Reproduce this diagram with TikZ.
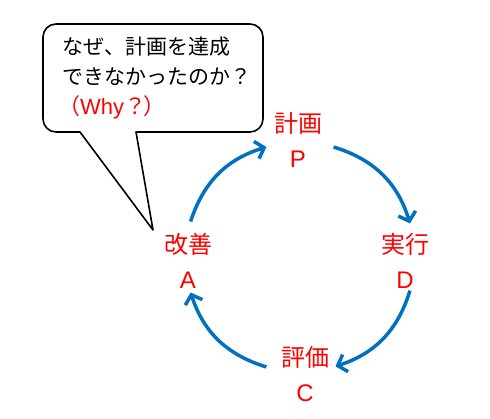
\documentclass[tikz,border=0pt]{standalone}
\usepackage{fontspec}
\setmainfont{Noto Sans CJK JP}
\newfontfamily\lat{Liberation Sans}
\usetikzlibrary{arrows.meta,calc}
\definecolor{cblue}{HTML}{0070C0}
\definecolor{cred}{HTML}{FF0000}
\tikzset{
  lbl/.style={text=cred, font=\fontsize{24}{35}\selectfont, align=center, inner sep=0pt},
  cyc/.style={draw=cblue, line width=3.5pt, -{Straight Barb[length=8pt,width=18pt]}},
  callout/.style={draw=black, line width=1.6pt, fill=white, line join=round},
  ctext/.style={font=\fontsize{21}{30}\selectfont, align=left, inner sep=0pt, anchor=north west}
}
\begin{document}
\begin{tikzpicture}[x=1pt,y=1pt]
\useasboundingbox (0,0) rectangle (490,419);
% callout
\coordinate (tip) at (153,189);
\coordinate (bl) at (80,287);
\coordinate (br) at (136,287);
\draw[callout] (bl) -- (tip) -- (br) [rounded corners=13pt] -- (263,287) -- (263,395) -- (43,395) -- (43,287) [sharp corners] -- cycle;
\node[ctext] (q) at (62,382) {なぜ、計画を達成\\できなかったのか？\\\textcolor{cred}{\fontsize{22}{30}\selectfont\hspace*{-4pt}（{\lat Why}？\hspace*{-3pt}）}};
% labels
\node[lbl] (P) at (298,279) {計画\\{\lat P}};
\node[lbl] (A) at (188,158) {改善\\{\lat A}};
\node[lbl] (D) at (405,158) {実行\\{\lat D}};
\node[lbl] (C) at (305,45) {評価\\{\lat C}};
% cycle arrows
\coordinate (O) at (300,162);
\coordinate (s1) at ($(O)+(162:115)$);
\coordinate (e1) at ($(O)+(107:115)$);
\coordinate (s2) at ($(O)+(73:115)$);
\coordinate (e2) at ($(O)+(17:115)$);
\coordinate (s3) at ($(O)+(-17:115)$);
\coordinate (e3) at ($(O)+(-72:115)$);
\coordinate (s4) at ($(O)+(-107:115)$);
\coordinate (e4) at ($(O)+(-162:115)$);
\draw[cyc] (s1) to[out=72,in=197] (e1);
\draw[cyc] (s2) to[out=-17,in=107] (e2);
\draw[cyc] (s3) to[out=-107,in=18] (e3);
\draw[cyc] (s4) to[out=163,in=-72] (e4);
\end{tikzpicture}
\end{document}
